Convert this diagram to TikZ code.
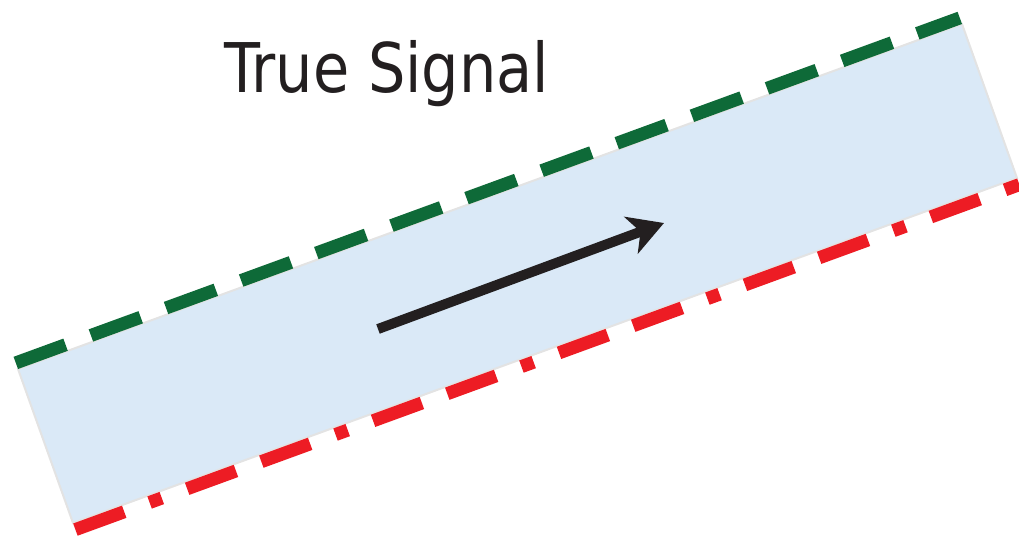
\documentclass[tikz,border=0pt]{standalone}
\usepackage{fontspec}
\usetikzlibrary{arrows.meta}
\newfontfamily\signalFont[FakeStretch=0.86]{DejaVu Sans}
\definecolor{bandBlue}{HTML}{DAE9F7}
\definecolor{edgeGray}{HTML}{E3E3E3}
\definecolor{upperGreen}{HTML}{0E6A38}
\definecolor{lowerRed}{HTML}{ED1C24}
\definecolor{inkBlack}{HTML}{231F20}

\begin{document}
\begin{tikzpicture}[x=0.02cm, y=-0.02cm,
  band/.style={fill=bandBlue,draw=edgeGray,line width=0.04cm},
  upperline/.style={draw=upperGreen,line width=0.26cm,
                    dash pattern=on 1.06cm off 0.54cm},
  lowerline/.style={draw=lowerRed,line width=0.26cm,
                    dash pattern=on 1.04cm off 0.54cm on 0.26cm off 0.54cm
                                 on 1.04cm off 0.54cm},
  signal/.style={draw=inkBlack,line width=0.2cm,
                 -{Stealth[length=0.7cm,width=0.78cm,inset=0.2cm]}}]
\useasboundingbox (0,0) rectangle (1019,539);
\coordinate (tl) at (18,369);
\coordinate (tr) at (962,24);
\coordinate (br) at (1017,178);
\coordinate (bl) at (73,523);
\coordinate (gs) at (15.8,362.9);
\coordinate (ge) at (959.8,17.9);
\coordinate (rs) at (75.4,529.6);
\coordinate (re) at (1019.4,184.6);
\coordinate (tail) at (378,329);
\coordinate (head) at (664,223);
\draw[band] (tl) -- (tr) -- (br) -- (bl) -- cycle;
\draw[upperline] (gs) -- (ge);
\draw[lowerline] (rs) -- (re);
\draw[signal] (tail) -- (head);
\node[anchor=base west,inner sep=0pt,text=inkBlack,
      font=\signalFont\fontsize{39}{47}\selectfont] (title) at (224,92) {True Signal};
\end{tikzpicture}
\end{document}
